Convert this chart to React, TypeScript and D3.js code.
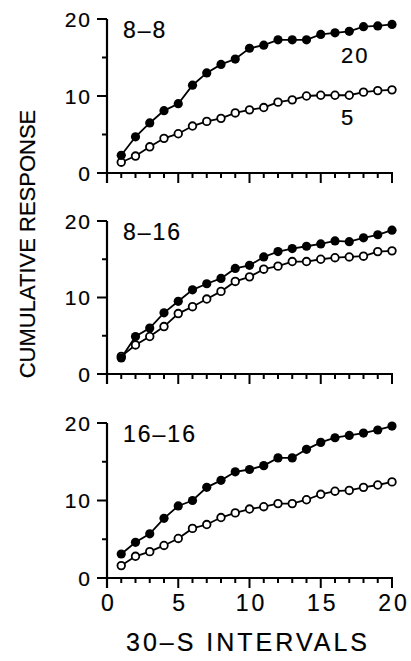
import React from "react";
import * as d3 from "d3";

const intervals = d3.range(1, 21);
const panelNames = ["8–8", "8–16", "16–16"];
const p1Filled = [2.3, 4.7, 6.5, 8.1, 9.0, 11.4, 13.0, 14.1, 14.8, 16.2, 16.6, 17.3, 17.3, 17.3, 18.0, 18.2, 18.4, 19.0, 19.1, 19.3];
const p1Open = [1.4, 2.2, 3.4, 4.5, 5.1, 6.1, 6.7, 7.1, 7.8, 8.2, 8.5, 9.2, 9.5, 10.0, 10.1, 10.1, 10.1, 10.5, 10.7, 10.8];
const p2Filled = [2.1, 4.9, 6.0, 8.0, 9.5, 11.0, 11.8, 12.5, 13.8, 14.2, 15.3, 16.0, 16.4, 16.7, 17.0, 17.4, 17.3, 17.8, 18.2, 18.8];
const p2Open = [2.3, 3.8, 4.9, 6.2, 7.9, 8.8, 9.8, 10.8, 12.1, 12.7, 13.7, 14.1, 14.7, 14.7, 15.0, 15.2, 15.3, 15.4, 16.0, 16.1];
const p3Filled = [3.1, 4.6, 5.7, 7.7, 9.3, 10.0, 11.7, 12.6, 13.7, 14.0, 14.5, 15.5, 15.5, 16.6, 17.5, 18.1, 18.4, 18.7, 19.1, 19.6];
const p3Open = [1.6, 2.8, 3.4, 4.2, 5.1, 6.4, 6.9, 7.8, 8.4, 8.9, 9.2, 9.6, 9.6, 10.1, 10.8, 11.2, 11.3, 11.7, 12.0, 12.4];
const yTickLabels = [0, 10, 20];
const yMinorTicks = [5, 15];
const xTickLabels = [0, 5, 10, 15, 20];
const xMinorTicks = d3.range(0, 21);
const seriesLabels = ["20", "5"];
const yTitle = "CUMULATIVE RESPONSE";
const xTitle = "30–S INTERVALS";

const panelData = [
  [p1Filled, p1Open],
  [p2Filled, p2Open],
  [p3Filled, p3Open],
];

const FONT = "'Liberation Sans', Arial, Helvetica, sans-serif";

export default function App() {
  const W = 411, H = 661;
  const x = d3.scaleLinear().domain([0, 20]).range([107, 392]);
  const panels = [
    { top: 19, bottom: 173 },
    { top: 221, bottom: 374 },
    { top: 423, bottom: 578 },
  ];
  const axisX = 107;
  const txt = { stroke: "#000", strokeWidth: 0.2 };

  return (
    <svg width={W} height={H} style={{ position: "absolute", left: 0, top: 0, background: "#fff" }} fontFamily={FONT}>
      <rect width={W} height={H} fill="#fff" />
      {panels.map((p, pi) => {
        const y = d3.scaleLinear().domain([0, 20]).range([p.bottom, p.top]);
        const line = d3
          .line<number>()
          .x((_, i) => x(intervals[i]))
          .y((v) => y(v));
        const [filled, open] = panelData[pi];
        return (
          <g key={pi}>
            <line x1={axisX} x2={axisX} y1={y(0) + 10} y2={y(20)} stroke="#000" strokeWidth={2.2} />
            {yTickLabels.map((t) => (
              <g key={"yt" + t}>
                <line x1={axisX - 10} x2={axisX} y1={y(t)} y2={y(t)} stroke="#000" strokeWidth={2} />
                <text x={92} y={y(t) + 7.5} textAnchor="end" fontSize={21} letterSpacing={2} {...txt}>
                  {t}
                </text>
              </g>
            ))}
            {yMinorTicks.map((t) => (
              <line key={"ym" + t} x1={axisX - 5} x2={axisX} y1={y(t)} y2={y(t)} stroke="#000" strokeWidth={2} />
            ))}
            <line x1={axisX} x2={x(20) + 1} y1={y(0)} y2={y(0)} stroke="#000" strokeWidth={2.2} />
            {xMinorTicks.map((t) => (
              <line
                key={"xm" + t}
                x1={x(t)}
                x2={x(t)}
                y1={y(0)}
                y2={y(0) + (t % 5 === 0 ? 10 : 5)}
                stroke="#000"
                strokeWidth={2}
              />
            ))}
            <path d={line(open) || ""} fill="none" stroke="#000" strokeWidth={1.8} />
            <path d={line(filled) || ""} fill="none" stroke="#000" strokeWidth={1.8} />
            {open.map((v, i) => (
              <circle key={"o" + i} cx={x(intervals[i])} cy={y(v)} r={3.8} fill="#fff" stroke="#000" strokeWidth={1.8} />
            ))}
            {filled.map((v, i) => (
              <circle key={"f" + i} cx={x(intervals[i])} cy={y(v)} r={4.6} fill="#000" />
            ))}
            <text x={123} y={p.top + 19} fontSize={23} letterSpacing={2} {...txt}>
              {panelNames[pi]}
            </text>
            {pi === 0 && (
              <g>
                <text x={341} y={y(20) + 44} fontSize={22} letterSpacing={2} {...txt}>
                  {seriesLabels[0]}
                </text>
                <text x={341} y={y(0) - 48} fontSize={22} letterSpacing={2} {...txt}>
                  {seriesLabels[1]}
                </text>
              </g>
            )}
            {pi === 2 &&
              xTickLabels.map((t) => (
                <text key={"xl" + t} x={x(t) + 2} y={611} textAnchor="middle" fontSize={23} letterSpacing={3} {...txt}>
                  {t}
                </text>
              ))}
          </g>
        );
      })}
      <text x={248} y={651} textAnchor="middle" fontSize={25} letterSpacing={3} {...txt}>
        {xTitle}
      </text>
      <text transform={`translate(35,244) rotate(-90)`} textAnchor="middle" fontSize={22} {...txt}>
        {yTitle}
      </text>
    </svg>
  );
}
